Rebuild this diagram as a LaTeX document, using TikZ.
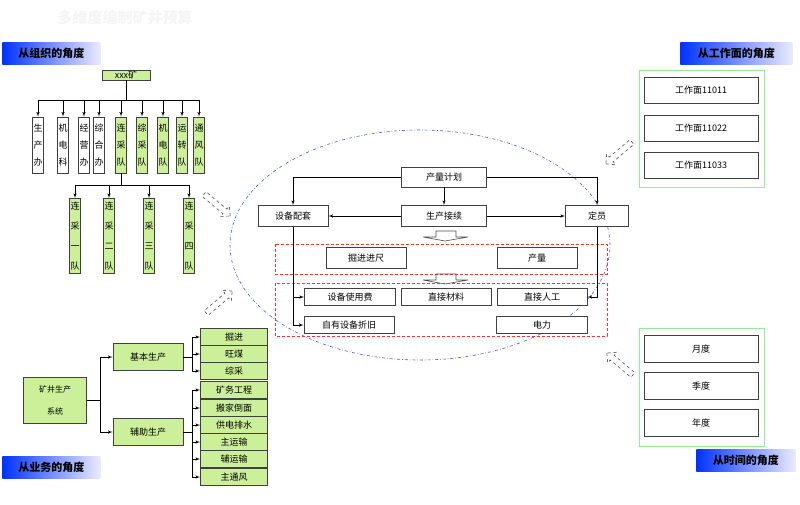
\documentclass[tikz,border=0pt]{standalone}
\usepackage{fontspec}
\newfontfamily\cjk{Noto Sans CJK SC}
\usetikzlibrary{arrows,shapes.arrows}

\definecolor{leaf}{RGB}{204,240,153}
\definecolor{frame}{RGB}{150,235,150}
\definecolor{ring}{RGB}{70,90,220}

\tikzset{
  box/.style={draw=black!75,thick,fill=white,font=\cjk\fontsize{9}{10}\selectfont,inner sep=0pt},
  gbox/.style={box,fill=leaf},
  vbox/.style={box,minimum width=11pt,align=center,font=\cjk\fontsize{9}{17}\selectfont},
  tag/.style={font=\cjk\bfseries\fontsize{11}{12}\selectfont,inner sep=0pt,minimum height=22pt,
    left color=blue!80!cyan,right color=blue!8,anchor=north west},
  hollow/.style={single arrow,draw=black!70,dashed,minimum height=34pt,minimum width=14pt,
    single arrow head extend=3pt,inner sep=2pt},
  redbox/.style={draw=red!80,densely dashed,thick},
}

\begin{document}
\begin{tikzpicture}[x=1pt,y=-1pt,>=latex',line width=0.6pt]
\useasboundingbox (0,0) rectangle (800,504);

\node[text=black!4,font=\cjk\bfseries\fontsize{15}{15}\selectfont] (title) at (125,18) {多维度编制矿井预算};

% organisation
\node[tag,minimum width=98pt] (torg) at (2,42) {从组织的角度};
\node[gbox,minimum width=48pt,minimum height=10pt] (mine) at (126,75) {xxx矿};
\foreach \x/\t/\f [count=\i] in {38/生\\产\\办/white,63/机\\电\\科/white,84/经\\营\\办/white,99/综\\合\\办/white,
   121/连\\采\\队/leaf,142/综\\采\\队/leaf,163/机\\电\\队/leaf,182/运\\转\\队/leaf,199/通\\风\\队/leaf}
  \node[vbox,fill=\f,minimum height=56pt] (d\i) at (\x,145) {\t};
\draw (mine.south) -- (126,100);
\draw (38,100) -- (199,100);
\foreach \i in {1,...,9}
  \draw[->] (d\i.north |- 0,100) -- (d\i.north);
\foreach \x/\t [count=\i] in {75/一,109/二,149/三,189/四}
  \node[vbox,fill=leaf,minimum height=75pt,font=\cjk\fontsize{9}{20}\selectfont] (t\i) at (\x,236) {连\\采\\\t\\队};
\draw (d5.south) -- (121,185);
\draw (75,185) -- (189,185);
\foreach \i in {1,...,4}
  \draw[->] (t\i.north |- 0,185) -- (t\i.north);
\node[hollow,rotate=-40] (h1) at (216,204) {};

% centre
\draw[ring,dash dot] (420,245) ellipse (190pt and 115pt);
\node[box,minimum width=85pt,minimum height=20pt] (plan) at (444,177) {产量计划};
\node[box,minimum width=70pt,minimum height=21pt] (equip) at (293,216) {设备配套};
\node[box,minimum width=85pt,minimum height=21pt] (cont) at (444,216) {生产接续};
\node[box,minimum width=63pt,minimum height=21pt] (staff) at (597,216) {定员};
\draw[->] (plan.west) -| (equip.north);
\draw[->] (plan.east) -| (staff.north);
\draw[->] (plan) -- (cont);
\draw[->] (cont) -- (equip);
\draw[->] (cont) -- (staff);
\draw[black!70] (423,237) -- (436,237) -- (436,231) -- (456,231) -- (456,237) -- (468,237) -- (445,241) -- cycle;
\draw[redbox] (275,244) rectangle (607,274);
\node[box,minimum width=80pt,minimum height=21pt] (adv) at (366,258) {掘进进尺};
\node[box,minimum width=80pt,minimum height=21pt] (out) at (537,258) {产量};
\draw[black!70] (423,280) -- (436,280) -- (436,274) -- (456,274) -- (456,280) -- (468,280) -- (445,284) -- cycle;
\draw[redbox] (275,283) rectangle (607,336);
\node[box,minimum width=91pt,minimum height=17pt] (use) at (350,297) {设备使用费};
\node[box,minimum width=90pt,minimum height=17pt] (mat) at (446,297) {直接材料};
\node[box,minimum width=90pt,minimum height=17pt] (lab) at (542,297) {直接人工};
\node[box,minimum width=90pt,minimum height=17pt] (dep) at (349,325) {自有设备折旧};
\node[box,minimum width=91pt,minimum height=17pt] (pow) at (542,325) {电力};
\draw[->] (equip.south) |- (use.west);
\draw[->] (equip.south) |- (dep.west);
\draw[->] (staff.south) |- (lab.east);

% work faces
\node[tag,minimum width=112pt] (tface) at (680,42) {从工作面的角度};
\draw[frame,thick] (639,70) rectangle (764,187);
\foreach \y/\n [count=\i] in {90/11011,128/11022,165/11033}
  \node[box,minimum width=114pt,minimum height=26pt] (f\i) at (701,\y) {工作面\n};
\node[hollow,rotate=220] (h2) at (620,152) {};

% time
\draw[frame,thick] (639,328) rectangle (764,446);
\foreach \y/\t [count=\i] in {349/月度,386/季度,423/年度}
  \node[box,minimum width=114pt,minimum height=27pt] (m\i) at (701,\y) {\t};
\node[tag,minimum width=99pt] (ttime) at (696,449) {从时间的角度};
\node[hollow,rotate=140] (h3) at (621,365) {};

% business
\node[gbox,minimum width=63pt,minimum height=46pt,align=center,font=\cjk\fontsize{8}{22}\selectfont] (sys) at (55,400) {矿井生产\\系统};
\node[gbox,minimum width=70pt,minimum height=27pt] (basic) at (148,357) {基本生产};
\node[gbox,minimum width=70pt,minimum height=27pt] (aux) at (148,432) {辅助生产};
\draw (sys.east) -- (100,400);
\draw[->] (100,400) |- (basic.west);
\draw[->] (100,400) |- (aux.west);
\foreach \y/\t [count=\i] in {337/掘进,354/旺煤,371/综采}
  \node[gbox,minimum width=67pt,minimum height=17pt] (b\i) at (234,\y) {\t};
\foreach \y/\t [count=\i] in {390/矿务工程,408/搬家倒面,425/供电排水,442/主运输,459/辅运输,477/主通风}
  \node[gbox,minimum width=67pt,minimum height=17pt] (a\i) at (234,\y) {\t};
\draw (basic.east) -- (192,357);
\draw (192,337) -- (192,371);
\foreach \i in {1,2,3}
  \draw[->] (192,0 |- b\i.west) -- (b\i.west);
\draw (aux.east) -- (192,432);
\draw (192,390) -- (192,477);
\foreach \i in {1,...,6}
  \draw[->] (192,0 |- a\i.west) -- (a\i.west);
\node[tag,minimum width=98pt] (tbiz) at (2,456) {从业务的角度};
\node[hollow,rotate=40] (h4) at (218,303) {};
\end{tikzpicture}
\end{document}
